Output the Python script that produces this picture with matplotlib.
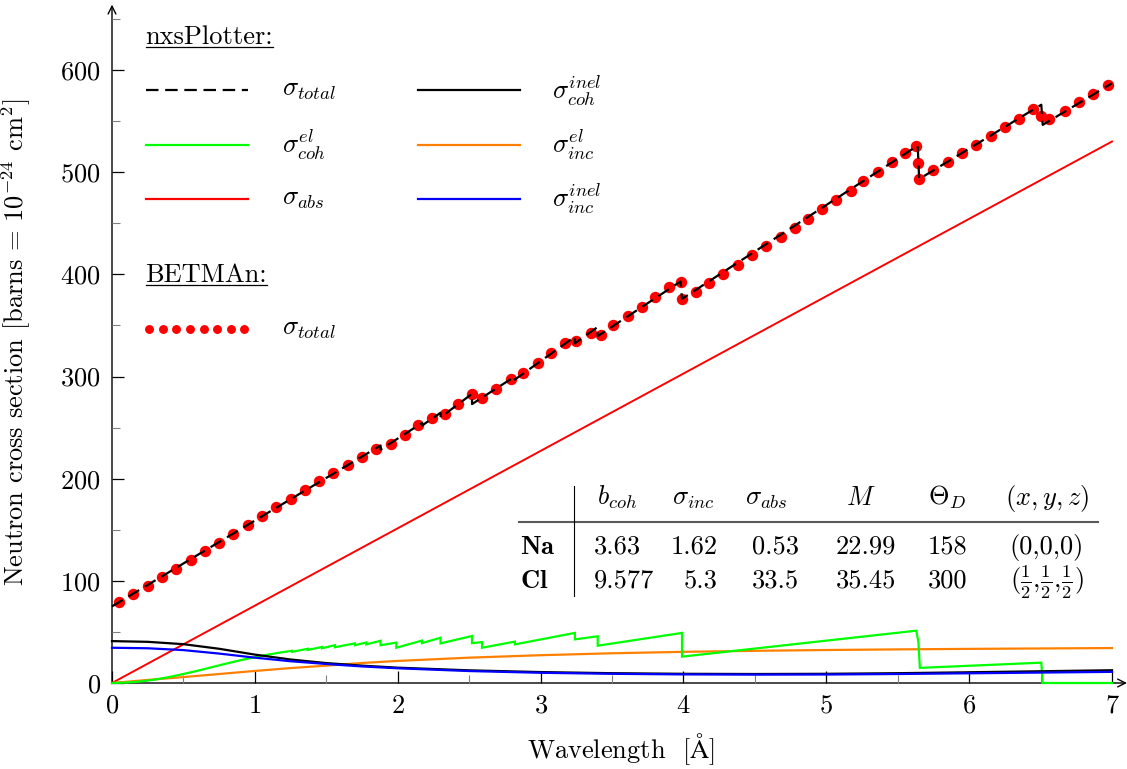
import numpy as np
import matplotlib
matplotlib.use('Agg')
import matplotlib.pyplot as plt
from matplotlib.lines import Line2D
from matplotlib.ticker import MultipleLocator

W, H = 1127, 769

# --- cross sections of NaCl [barns per cell] vs wavelength [A] ---
# absorption (1/v law)
abs_lam = [0.0, 7.0]
abs_val = [0.0, 530.0]

# coherent elastic, with Bragg edges
coh_el_lam = [0.0, 0.1, 0.2, 0.3, 0.4, 0.5, 0.6, 0.7, 0.8, 0.9, 1.0, 1.1, 1.2,
              1.26, 1.26, 1.37, 1.37, 1.47, 1.47, 1.56, 1.56, 1.70, 1.70,
              1.78, 1.78, 1.88, 1.88, 1.99, 1.99, 2.17, 2.17, 2.30, 2.30,
              2.52, 2.52, 2.59, 2.59, 2.82, 2.82, 3.24, 3.24, 3.40, 3.40,
              3.99, 3.99, 5.63, 5.645, 5.655, 6.505, 6.515, 7.0]
coh_el_val = [0.0, 0.4, 1.5, 3.3, 5.8, 8.8, 12.0, 15.5, 19.0, 22.3, 25.3, 28.0, 30.3,
              31.5, 30.5, 33.5, 32.3, 35.3, 34.0, 37.0, 35.0, 38.8, 37.0,
              39.6, 37.8, 41.3, 37.0, 39.5, 34.5, 41.5, 39.0, 44.3, 38.8,
              46.0, 39.0, 40.0, 34.5, 40.5, 37.8, 49.0, 42.7, 45.7, 36.5,
              49.0, 25.8, 51.2, 40.0, 14.8, 19.9, 0.0, 0.0]

# smooth parts (inelastic + incoherent elastic)
smooth_lam = [0.0, 0.25, 0.5, 0.75, 1.0, 1.25, 1.5, 1.75, 2.0, 2.5, 3.0, 3.5,
              4.0, 4.5, 5.0, 5.5, 6.0, 6.5, 7.0]
coh_inel = [41.0, 40.3, 38.0, 33.5, 27.8, 23.0, 19.5, 17.0, 15.0, 12.4, 10.7, 9.6,
            9.0, 8.8, 9.0, 9.6, 10.5, 11.5, 12.5]
inc_inel = [34.5, 34.0, 32.2, 28.8, 24.8, 21.3, 18.6, 16.2, 14.4, 11.7, 10.0, 9.0,
            8.4, 8.2, 8.3, 8.8, 9.5, 10.2, 10.9]
inc_el = [0.0, 3.0, 5.8, 8.8, 11.8, 14.6, 17.0, 19.6, 21.6, 24.8, 27.2, 29.1,
          30.5, 31.5, 32.3, 32.9, 33.4, 33.8, 34.2]

# nxsPlotter total
tot_lam = [0.0, 1.0, 1.88, 1.88, 2.17, 2.17, 2.30, 2.30, 2.52, 2.52, 2.82, 2.82,
           3.24, 3.24, 3.40, 3.40, 3.98, 3.99, 5.64, 5.65, 6.505, 6.515, 7.0]
tot_val = [75.0, 159.0, 232.5, 228.5, 254.5, 252.0, 264.5, 260.0, 283.0, 273.0,
           300.0, 297.0, 339.0, 332.5, 348.5, 339.5, 393.0, 376.0, 526.0, 493.3,
           566.0, 546.3, 587.0]

# BETMAn total
bet_lam = [0.05, 0.15, 0.25, 0.35, 0.45, 0.55, 0.65, 0.75, 0.85, 0.95, 1.05, 1.15,
           1.25, 1.35, 1.45, 1.55, 1.65, 1.75, 1.85, 1.95, 2.05, 2.14, 2.24, 2.33,
           2.42, 2.52, 2.59, 2.69, 2.79, 2.88, 2.98, 3.07, 3.17, 3.25, 3.35, 3.42,
           3.51, 3.61, 3.71, 3.80, 3.90, 3.98, 3.99, 4.09, 4.18, 4.28, 4.38, 4.48,
           4.58, 4.68, 4.78, 4.87, 4.97, 5.07, 5.17, 5.26, 5.36, 5.46, 5.55, 5.63,
           5.64, 5.65, 5.75, 5.85, 5.95, 6.05, 6.15, 6.25, 6.35, 6.45, 6.50, 6.56,
           6.67, 6.77, 6.87, 6.97]
bet_val = [79.0, 87.1, 95.2, 103.7, 111.9, 120.4, 128.9, 137.3, 146.1, 154.6, 163.5,
           172.0, 180.4, 188.9, 197.4, 205.8, 213.0, 221.5, 229.3, 233.9, 242.4, 252.2,
           259.1, 263.0, 272.8, 282.6, 279.3, 287.8, 297.2, 303.7, 312.9, 322.7, 332.5,
           335.0, 342.9, 340.9, 350.1, 359.5, 368.3, 378.0, 387.9, 392.2, 375.8, 382.7,
           391.5, 400.3, 409.4, 418.6, 427.4, 436.5, 445.3, 454.1, 463.6, 472.7, 481.8,
           491.0, 500.1, 509.6, 519.0, 525.6, 509.0, 493.3, 501.8, 509.9, 518.4, 526.9,
           535.4, 544.2, 552.3, 561.5, 555.0, 551.7, 559.8, 568.4, 576.5, 585.0]

# table of atomic parameters
tab_head = [r'$b_{coh}$', r'$\sigma_{inc}$', r'$\sigma_{abs}$', r'$M$', r'$\Theta_D$', r'$(x,y,z)$']
elements = [r'$\mathbf{Na}$', r'$\mathbf{Cl}$']
b_coh = ['3.63', '9.577']
sig_inc = ['1.62', '5.3']
sig_abs = ['0.53', '33.5']
mass = ['22.99', '35.45']
theta_d = ['158', '300']
position = ['(0,0,0)', r'$(\frac{1}{2},\!\frac{1}{2},\!\frac{1}{2})$']

GREEN = '#00ff00'
ORANGE = '#ff8000'
RED = '#ff0000'
BLUE = '#0000ff'

plt.rcParams.update({
    'font.family': 'serif',
    'font.serif': ['cmr10'],
    'mathtext.fontset': 'cm',
    'axes.formatter.use_mathtext': True,
    'axes.unicode_minus': False,
    'font.size': 19,
    'lines.scale_dashes': False,
})

fig = plt.figure(figsize=(W / 100, H / 100), dpi=100)
ax = fig.add_axes([112 / W, 86 / H, 1000 / W, 674.3 / H])
ax.set_xlim(0, 7)
ax.set_ylim(0, 660)
for s in ax.spines.values():
    s.set_visible(False)

# axis lines with arrows
arr = dict(arrowstyle='->', lw=1.0, color='k', shrinkA=0, shrinkB=0, mutation_scale=14)
ax.annotate('', xy=(1.015, 0), xytext=(0, 0), xycoords='axes fraction', arrowprops=arr, zorder=1)
ax.annotate('', xy=(0, 1.006), xytext=(0, 0), xycoords='axes fraction', arrowprops=arr, zorder=1)

ax.xaxis.set_major_locator(MultipleLocator(1))
ax.xaxis.set_minor_locator(MultipleLocator(0.5))
ax.yaxis.set_major_locator(MultipleLocator(100))
ax.yaxis.set_minor_locator(MultipleLocator(50))
ax.set_yticks(np.arange(0, 601, 100))
ax.tick_params(which='major', direction='in', length=8.6, width=0.9, color='k', pad=8)
ax.tick_params(which='minor', direction='in', length=6.0, width=0.8, color='0.5')

ax.set_xlabel(r'Wavelength  [$\mathrm{\AA}$]')
ax.xaxis.set_label_coords(0.509, -0.072)
ax.set_ylabel(r'Neutron cross section [barns = $10^{-24}$ cm$^2$]')
ax.yaxis.set_label_coords(-0.079, 0.506)

kw = dict(lw=1.6, clip_on=False, zorder=3, solid_joinstyle='miter')
ax.plot(abs_lam, abs_val, color=RED, lw=1.4, clip_on=False, zorder=3)
ax.plot(smooth_lam, inc_el, color=ORANGE, **kw)
ax.plot(coh_el_lam, coh_el_val, color=GREEN, **kw)
ax.plot(smooth_lam, coh_inel, color='k', **kw)
ax.plot(smooth_lam, inc_inel, color=BLUE, **kw)
ax.plot(bet_lam, bet_val, ls='none', marker='o', ms=7.2, mfc=RED, mec=RED, zorder=4, clip_on=False)
ax.plot(tot_lam, tot_val, color='k', lw=1.6, dashes=(9.0, 4.8), zorder=5, clip_on=False)


# --- legend drawn by hand, coordinates in pixels from top-left ---
def fx(px):
    return px / W


def fy(py):
    return 1 - py / H


def sample(x0, x1, y, **style):
    fig.add_artist(Line2D([fx(x0), fx(x1)], [fy(y), fy(y)], **style))


heads = [fig.text(fx(145.5), fy(43.5), 'nxsPlotter:', va='baseline'),
         fig.text(fx(145.5), fy(281.7), 'BETMAn:', va='baseline')]

rows = [90.3, 145.0, 199.3]
col1 = [dict(color='k', lw=1.6, dashes=(9.0, 4.8)), dict(color=GREEN, lw=1.6), dict(color=RED, lw=1.6)]
lab1 = [r'$\sigma_{total}$', r'$\sigma^{el}_{coh}$', r'$\sigma_{abs}$']
col2 = [dict(color='k', lw=1.6), dict(color=ORANGE, lw=1.6), dict(color=BLUE, lw=1.6)]
lab2 = [r'$\sigma^{inel}_{coh}$', r'$\sigma^{el}_{inc}$', r'$\sigma^{inel}_{inc}$']
for y, s1, l1, s2, l2 in zip(rows, col1, lab1, col2, lab2):
    sample(146, 247.5, y, **s1)
    fig.text(fx(282), fy(y), l1, va='center', ha='left')
    sample(418, 520, y, **s2)
    fig.text(fx(552), fy(y), l2, va='center', ha='left')

dot_x = np.linspace(149.3, 244.3, 8)
fig.add_artist(Line2D(fx(dot_x), fy(np.full(8, 329.0)), ls='none', marker='o',
                      ms=5.4, mfc=RED, mec=RED))
fig.text(fx(282), fy(329.0), r'$\sigma_{total}$', va='center', ha='left')

# underline the two headings just below the baseline
fig.canvas.draw()
rend = fig.canvas.get_renderer()
for t, yl in zip(heads, [46.5, 285.0]):
    bb = t.get_window_extent(rend)
    fig.add_artist(Line2D([bb.x0 / W, bb.x1 / W], [fy(yl), fy(yl)], color='k', lw=0.9))

# --- parameter table ---
head_x = [617, 693, 766, 861, 947, 1047]
for x, h in zip(head_x, tab_head):
    fig.text(fx(x), fy(505), h, ha='center', va='baseline')
row_y = [554, 588]
for i, y in enumerate(row_y):
    fig.text(fx(520), fy(y), elements[i], ha='left', va='baseline')
    fig.text(fx(594), fy(y), b_coh[i], ha='left', va='baseline')
    fig.text(fx(718), fy(y), sig_inc[i], ha='right', va='baseline')
    fig.text(fx(799), fy(y), sig_abs[i], ha='right', va='baseline')
    fig.text(fx(836), fy(y), mass[i], ha='left', va='baseline')
    fig.text(fx(948), fy(y), theta_d[i], ha='center', va='baseline')
    fig.text(fx(1047), fy(y), position[i], ha='center', va='baseline')
fig.add_artist(Line2D([fx(519), fx(1098)], [fy(522), fy(522)], color='0.35', lw=1.5))
fig.add_artist(Line2D([fx(574), fx(574)], [fy(486), fy(596)], color='k', lw=0.8))

fig.savefig('out.png', dpi=100)
